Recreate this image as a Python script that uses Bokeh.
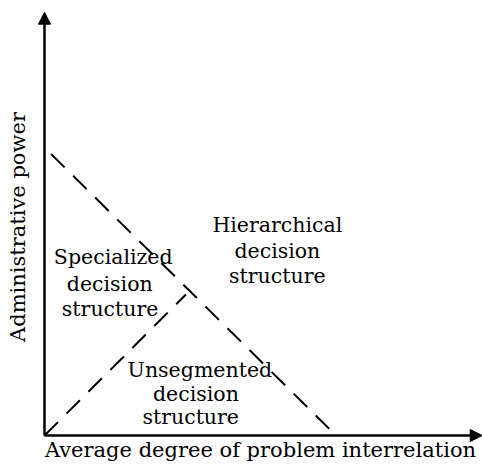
import math
from bokeh.plotting import figure
from bokeh.models import Range1d, Arrow, NormalHead, ColumnDataSource
from bokeh.core.properties import value
from bokeh.embed import file_html
from bokeh.resources import INLINE

# ---- data (conceptual units, 0-100 on each axis) ----
# boundary between hierarchical and the other structures
falling_x = [1.5, 66.6]
falling_y = [66.5, 0.0]
# boundary between specialized and unsegmented structures
rising_x = [0.0, 32.3]
rising_y = [0.0, 33.3]

axis_end_x = 100
axis_end_y = 100

region_labels = ["Hierarchical", "decision", "structure",
                 "Specialized", "decision", "structure",
                 "Unsegmented", "decision", "structure"]
region_x = [53.2, 53.2, 53.2,
            15.7, 14.9, 15.0,
            35.5, 34.6, 33.4]
region_y = [49.7, 43.7, 37.6,
            42.1, 35.9, 29.8,
            15.4, 9.7, 4.3]

x_title = "Average degree of problem interrelation"
y_title = "Administrative power"

# ---- layout ----
W, H = 482, 469
ox, oy = 44, 435          # origin position inside the frame (px from left / top)
sx = 437.7 / axis_end_x   # px per unit
sy = 423.3 / axis_end_y

p = figure(width=W, height=H, output_backend="svg", toolbar_location=None,
           x_axis_type=None, y_axis_type=None,
           x_range=Range1d(-ox / sx, (W - ox) / sx),
           y_range=Range1d(-(H - oy) / sy, oy / sy),
           min_border=0, min_border_left=0, min_border_right=0,
           min_border_top=0, min_border_bottom=0)
p.outline_line_color = None
p.background_fill_color = "white"
p.border_fill_color = "white"

# axes with arrow heads
p.add_layout(Arrow(x_start=0, y_start=0, x_end=axis_end_x, y_end=0,
                   line_width=2.5, line_color="black",
                   end=NormalHead(size=12, fill_color="black", line_color="black", line_width=1)))
p.add_layout(Arrow(x_start=0, y_start=0, x_end=0, y_end=axis_end_y,
                   line_width=2.5, line_color="black",
                   end=NormalHead(size=12, fill_color="black", line_color="black", line_width=1)))

# dashed boundaries
p.line(falling_x, falling_y, line_width=2, line_color="black", line_dash="19 12")
p.line(rising_x, rising_y, line_width=2, line_color="black", line_dash="19 12")

font = value("DejaVu Serif")

src = ColumnDataSource(dict(x=region_x, y=region_y, t=region_labels))
p.text(x="x", y="y", text="t", source=src, text_font=font, text_font_size="20.5px",
       text_align="center", text_baseline="alphabetic", text_color="black")

p.text(x=[(260 - 44) / sx], y=[-(449 - 435) / sy], text=[x_title], text_font=font,
       text_font_size="21px", text_align="center", text_baseline="alphabetic",
       text_color="black")
p.text(x=[(17 - 44) / sx], y=[(435 - 226.5) / sy], text=[y_title], text_font=font,
       text_font_size="21px", text_align="center", text_baseline="alphabetic",
       angle=math.pi / 2, text_color="black")

open("out.html", "w").write(file_html(p, INLINE))
